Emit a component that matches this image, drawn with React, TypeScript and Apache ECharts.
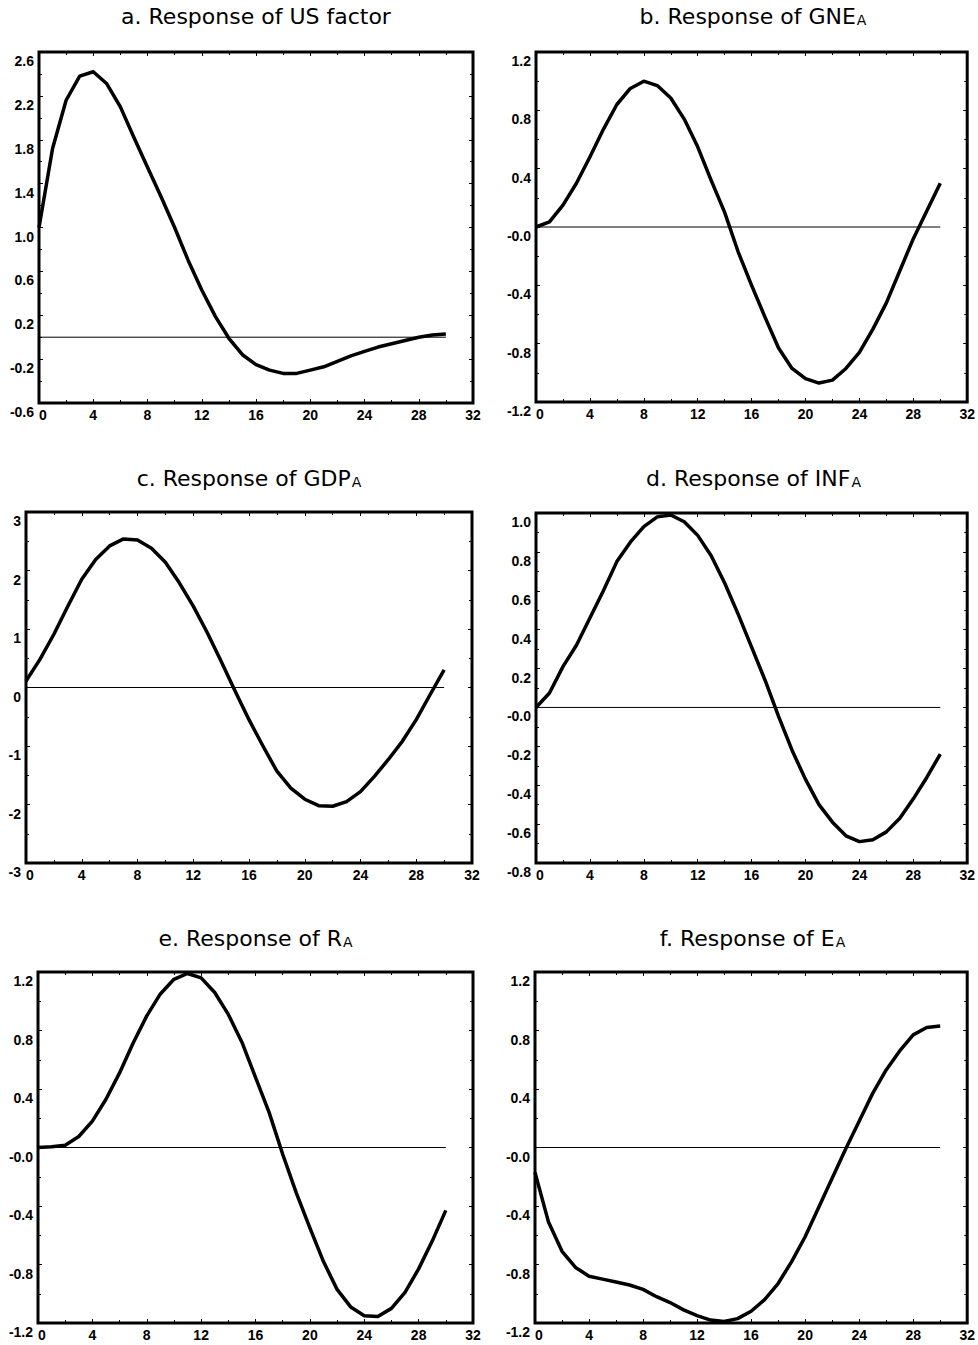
import React, { useEffect, useRef } from "react";
import * as echarts from "echarts";

// horizon (periods after the shock)
const periods = [0, 1, 2, 3, 4, 5, 6, 7, 8, 9, 10, 11, 12, 13, 14, 15, 16, 17, 18, 19, 20, 21, 22, 23, 24, 25, 26, 27, 28, 29, 30];

// impulse responses
const usFactor = [1.0, 1.72, 2.16, 2.38, 2.42, 2.31, 2.10, 1.82, 1.55, 1.28, 1.0, 0.70, 0.43, 0.19, -0.01, -0.16, -0.25, -0.30, -0.33, -0.33, -0.30, -0.27, -0.22, -0.17, -0.13, -0.09, -0.06, -0.03, 0.0, 0.02, 0.03];
const gneA = [0.0, 0.035, 0.15, 0.30, 0.48, 0.67, 0.84, 0.95, 1.0, 0.97, 0.885, 0.74, 0.55, 0.32, 0.10, -0.17, -0.40, -0.62, -0.83, -0.97, -1.04, -1.07, -1.05, -0.97, -0.86, -0.70, -0.52, -0.30, -0.08, 0.11, 0.30];
const gdpA = [0.11, 0.48, 0.91, 1.39, 1.85, 2.19, 2.42, 2.54, 2.52, 2.38, 2.14, 1.79, 1.39, 0.94, 0.45, -0.06, -0.55, -1.0, -1.43, -1.72, -1.91, -2.02, -2.03, -1.95, -1.78, -1.52, -1.23, -0.92, -0.55, -0.12, 0.30];
const infA = [0.0, 0.074, 0.21, 0.32, 0.46, 0.60, 0.75, 0.85, 0.93, 0.98, 0.99, 0.955, 0.885, 0.78, 0.64, 0.48, 0.31, 0.14, -0.046, -0.22, -0.37, -0.50, -0.59, -0.66, -0.69, -0.68, -0.64, -0.57, -0.47, -0.36, -0.24];
const rA = [0.0, 0.005, 0.016, 0.075, 0.18, 0.33, 0.51, 0.715, 0.90, 1.05, 1.15, 1.19, 1.16, 1.06, 0.91, 0.72, 0.48, 0.24, -0.046, -0.31, -0.55, -0.78, -0.97, -1.09, -1.15, -1.155, -1.10, -0.99, -0.83, -0.64, -0.43];
const eA = [-0.17, -0.51, -0.71, -0.82, -0.88, -0.90, -0.92, -0.94, -0.97, -1.02, -1.06, -1.11, -1.15, -1.18, -1.19, -1.17, -1.12, -1.04, -0.93, -0.78, -0.61, -0.41, -0.21, -0.01, 0.18, 0.37, 0.53, 0.66, 0.77, 0.82, 0.83];

// titles
const titleMain = ["a. Response of US factor", "b. Response of GNE", "c. Response of GDP", "d. Response of INF", "e. Response of R", "f. Response of E"];
const titleSub = ["", "A", "A", "A", "A", "A"];

// axis ranges
const xMin = 0;
const xMax = 32;
const xStep = 4;
const yMins = [-0.6, -1.2, -3, -0.8, -1.2, -1.2];
const yMaxs = [2.6, 1.2, 3, 1.0, 1.2, 1.2];
const ySteps = [0.4, 0.4, 1, 0.2, 0.4, 0.4];

const seriesValues = [usFactor, gneA, gdpA, infA, rA, eA];

// layout (pixels)
const layouts = [
  { left: 39, top: 52, width: 434, height: 351 },
  { left: 536, top: 52, width: 434, height: 350 },
  { left: 26, top: 512, width: 446, height: 351 },
  { left: 536, top: 513, width: 435, height: 350 },
  { left: 38, top: 972, width: 435, height: 351 },
  { left: 535, top: 972, width: 435, height: 351 },
];
const titleTops = [5, 5, 467, 467, 927, 927];

const LABEL_FONT = '"Liberation Sans", Arial, sans-serif';
const TITLE_FONT = '"DejaVu Sans", sans-serif';

function yFormatter(panel: number) {
  return (v: number) => {
    if (panel === 2) return String(Math.round(v));
    if (Math.abs(v) < 1e-9) return "-0.0";
    return v.toFixed(1);
  };
}

export default function App() {
  const ref = useRef<HTMLDivElement>(null);

  useEffect(() => {
    if (!ref.current) return;
    const chart = echarts.init(ref.current, undefined, { renderer: "svg" });

    const grids: any[] = [];
    const xAxes: any[] = [];
    const yAxes: any[] = [];
    const series: any[] = [];
    const titles: any[] = [];

    const tickStyle = { color: "#000", width: 1 };

    layouts.forEach((l, i) => {
      grids.push({
        left: l.left,
        top: l.top,
        width: l.width,
        height: l.height,
        show: true,
        borderColor: "#000",
        borderWidth: 3,
        backgroundColor: "transparent",
      });

      const xBase = {
        type: "value",
        gridIndex: i,
        min: xMin,
        max: xMax,
        interval: xStep,
        axisLine: { show: false, onZero: false },
        axisTick: { show: true, inside: true, length: 4, lineStyle: tickStyle },
        minorTick: { show: true, splitNumber: 2, length: 3, lineStyle: tickStyle },
        splitLine: { show: false },
        minorSplitLine: { show: false },
      };
      xAxes.push({
        ...xBase,
        position: "bottom",
        axisLabel: {
          show: true,
          color: "#000",
          fontFamily: LABEL_FONT,
          fontWeight: "bold",
          fontSize: 14,
          margin: 5,
          showMinLabel: true,
          showMaxLabel: true,
          alignMinLabel: "left",
        },
      });
      xAxes.push({ ...xBase, position: "top", axisLabel: { show: false } });

      const yBase = {
        type: "value",
        gridIndex: i,
        min: yMins[i],
        max: yMaxs[i],
        interval: ySteps[i],
        axisLine: { show: false, onZero: false },
        axisTick: { show: true, inside: true, length: 4, lineStyle: tickStyle },
        minorTick: { show: true, splitNumber: 2, length: 3, lineStyle: tickStyle },
        splitLine: { show: false },
        minorSplitLine: { show: false },
      };
      yAxes.push({
        ...yBase,
        position: "left",
        axisLabel: {
          show: true,
          color: "#000",
          fontFamily: LABEL_FONT,
          fontWeight: "bold",
          fontSize: 14,
          margin: 5,
          verticalAlign: "top",
          lineHeight: 14,
          padding: [2, 0, 0, 0],
          showMinLabel: true,
          showMaxLabel: true,
          formatter: yFormatter(i),
        },
      });
      yAxes.push({ ...yBase, position: "right", axisLabel: { show: false } });

      const vals = seriesValues[i];
      series.push({
        type: "line",
        xAxisIndex: 2 * i,
        yAxisIndex: 2 * i,
        data: [
          [periods[0], 0],
          [periods[periods.length - 1], 0],
        ],
        symbol: "none",
        silent: true,
        lineStyle: { color: "#000", width: 1 },
        z: 2,
      });
      series.push({
        type: "line",
        xAxisIndex: 2 * i,
        yAxisIndex: 2 * i,
        data: periods.map((p, j) => [p, vals[j]]),
        symbol: "none",
        clip: false,
        lineStyle: { color: "#000", width: 3.5, join: "round" },
        z: 3,
      });

      const sub = titleSub[i];
      titles.push({
        text: sub ? `{m|${titleMain[i]}}{s|${sub}}` : `{m|${titleMain[i]}}`,
        left: l.left + l.width / 2,
        top: titleTops[i],
        textAlign: "center",
        padding: 0,
        textStyle: {
          fontWeight: "normal",
          rich: {
            m: {
              fontFamily: TITLE_FONT,
              fontSize: 22,
              fontWeight: "normal",
              lineHeight: 24,
              color: "#000",
              verticalAlign: "top",
            },
            s: {
              fontFamily: TITLE_FONT,
              fontSize: 14,
              fontWeight: "normal",
              lineHeight: 24,
              color: "#000",
              verticalAlign: "top",
              padding: [8, 0, 0, 1],
            },
          },
        },
      });
    });

    chart.setOption({
      animation: false,
      backgroundColor: "#fff",
      title: titles,
      grid: grids,
      xAxis: xAxes,
      yAxis: yAxes,
      series,
    });

    return () => {
      chart.dispose();
    };
  }, []);

  return (
    <div
      ref={ref}
      style={{ position: "absolute", left: 0, top: 0, width: 978, height: 1345 }}
    />
  );
}
